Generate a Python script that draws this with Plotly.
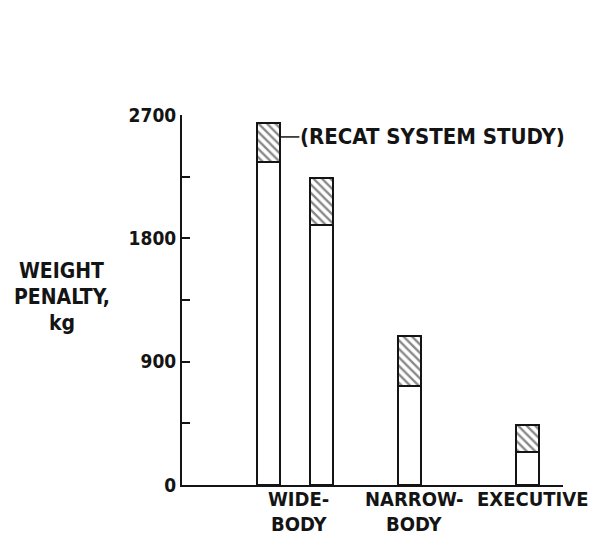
import plotly.graph_objects as go

# Data
categories = ["WIDE-\nBODY", "NARROW-\nBODY", "EXECUTIVE"]
category_pos = [3.07, 6.09, 9.19]
bar_pos = [2.26, 3.66, 5.97, 9.07]
base_penalty = [2357, 1897, 722, 241]
total_penalty = [2642, 2240, 1087, 438]
recat_extra = [t - b for t, b in zip(total_penalty, base_penalty)]
y_ticks = [0, 450, 900, 1350, 1800, 2250, 2700]
y_ticklabels = ["0", "", "900", "", "1800", "", "2700"]
y_title = ["WEIGHT", "PENALTY,", "kg"]
note_text = "(RECAT SYSTEM STUDY)"

FONT = "Liberation Sans Narrow, DejaVu Sans Condensed, Arial Narrow, sans-serif"
INK = "#141414"
BW = 0.6


def f(size):
    return dict(family=FONT, size=size, color=INK, weight="bold")


fig = go.Figure()
fig.add_trace(go.Bar(
    x=bar_pos, y=base_penalty, width=BW,
    marker=dict(color="white", line=dict(color=INK, width=2)),
    showlegend=False, hoverinfo="skip"))
fig.add_trace(go.Bar(
    x=bar_pos, y=recat_extra, width=BW,
    marker=dict(color="white", line=dict(color=INK, width=2),
                pattern=dict(shape="\\", fgcolor=INK, bgcolor="white",
                             size=6, solidity=0.4)),
    showlegend=False, hoverinfo="skip"))

annotations = []
for cat, xp in zip(categories, category_pos):
    for i, line in enumerate(cat.split("\n")):
        annotations.append(dict(
            x=xp, y=0, xref="x", yref="y", text=line, showarrow=False,
            xanchor="center", yanchor="top", yshift=0 - 25 * i,
            font=f(20)))

for i, line in enumerate(y_title):
    annotations.append(dict(
        x=-0.315, y=0.508, xref="paper", yref="paper", text=line, showarrow=False,
        xanchor="center", yanchor="middle", yshift=26 - 26 * i,
        font=f(21)))

note_y = 2540
annotations.append(dict(
    x=3.04, y=note_y, xref="x", yref="y", text=note_text, showarrow=False,
    xanchor="left", yanchor="middle", font=f(22)))

fig.add_shape(type="line", x0=bar_pos[0] + BW / 2, x1=3.08, y0=note_y, y1=note_y,
              xref="x", yref="y", line=dict(color=INK, width=1.5))

# page body has an 8px margin: figure is placed at (8, 8)
fig.update_layout(
    width=580, height=528,
    margin=dict(l=174, r=25, t=107, b=51),
    paper_bgcolor="white", plot_bgcolor="white",
    barmode="stack", bargap=0,
    annotations=annotations,
    font=f(21),
)
fig.update_xaxes(range=[0, 10], showgrid=False, zeroline=False, showticklabels=False,
                 showline=True, linecolor=INK, linewidth=2, ticks="")
fig.update_yaxes(range=[0, 2700], showgrid=False, zeroline=False,
                 tickvals=y_ticks, ticktext=y_ticklabels,
                 ticks="inside", ticklen=8, tickwidth=1.5, tickcolor=INK,
                 showline=True, linecolor=INK, linewidth=2,
                 tickfont=f(19))

fig.write_html("out.html")
